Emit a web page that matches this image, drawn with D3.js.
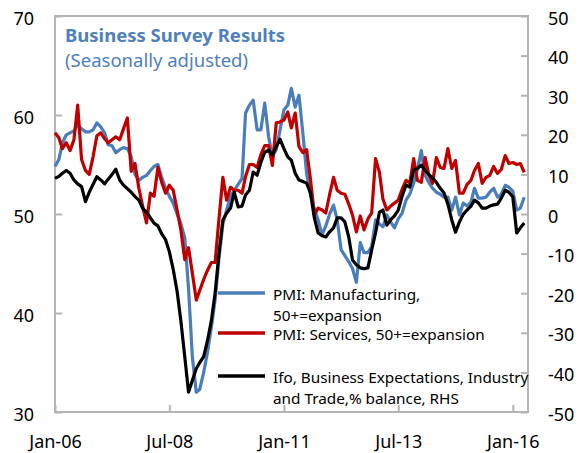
<!DOCTYPE html>
<html>
<head>
<meta charset="utf-8">
<script src="https://cdn.jsdelivr.net/npm/d3@7"></script>
<style>
  body { margin: 0; background: #fff; }
  text { font-family: "Noto Sans", sans-serif; fill: #000; }
</style>
</head>
<body>
<div id="chart"></div>
<script>
// monthly data, Jan-06 .. Apr-16
var startYear = 2006;

var pmiManufacturing = [
  54.8, 55.5, 57.2, 58.0, 58.2, 58.4, 59.0, 58.6, 58.3, 58.3, 58.5, 59.2,
  58.8, 58.2, 57.0, 56.9, 56.2, 56.5, 56.7, 56.6, 55.8, 54.0, 53.4, 53.7,
  53.9, 54.4, 54.8, 55.0, 53.7, 52.6, 51.8, 51.1, 50.0, 49.0, 47.6, 42.5,
  35.5, 32.0, 32.3, 34.0, 36.0, 38.5, 41.3, 45.5, 49.0, 50.4, 51.8, 52.4,
  53.0, 53.6, 60.2, 61.0, 61.5, 58.5, 58.5, 61.2, 57.8, 55.8, 56.5, 58.5,
  60.5, 61.0, 62.7, 60.8, 62.0, 58.2, 54.1, 52.0, 50.5, 49.4, 47.9, 48.8,
  50.0, 50.9, 49.4, 46.4, 45.8, 45.2, 44.5, 43.1, 47.1, 46.1, 46.1, 46.7,
  49.4, 49.0, 48.7, 49.9, 49.2, 48.6, 49.5, 50.1, 51.4, 52.0, 53.1, 54.5,
  56.4, 53.9, 53.2, 52.6, 52.2, 52.0, 51.7, 51.7, 50.4, 51.7, 49.9, 51.1,
  50.8, 51.2, 52.6, 51.6, 51.6, 51.7, 52.2, 52.6, 51.7, 52.0, 52.9, 52.7,
  52.3, 50.4, 50.6, 51.7
];

var pmiServices = [
  58.2, 57.7, 56.6, 57.2, 56.4, 57.5, 61.0, 55.5, 54.4, 54.0, 55.8, 57.9,
  58.2, 57.6, 57.2, 57.5, 57.8, 57.5, 58.6, 59.7, 54.3, 55.1, 52.6, 50.8,
  49.1, 52.1, 51.8, 54.7, 53.2, 52.1, 52.9, 52.4, 50.4, 48.4, 45.4, 46.6,
  44.0, 41.3, 42.3, 43.4, 44.3, 45.1, 45.1, 49.5, 53.7, 51.4, 52.7, 52.4,
  52.4, 52.1, 53.8, 55.0, 55.0, 54.7, 56.0, 56.9, 56.9, 54.9, 59.2, 59.3,
  59.5, 60.3, 58.7, 60.2, 56.8, 56.2, 56.5, 53.5, 49.9, 50.6, 50.4, 50.1,
  52.0, 53.7, 52.4, 52.1, 52.0, 51.0, 49.9, 48.2, 49.8, 48.4, 49.5, 50.1,
  55.6, 54.2, 51.5, 50.4, 50.8, 51.1, 51.4, 52.5, 53.4, 53.1, 55.6, 53.4,
  53.2, 55.7, 54.0, 53.1, 55.7, 54.7, 54.6, 56.6, 54.6, 55.4, 52.1, 52.1,
  53.0, 53.4, 54.4, 55.1, 53.1, 53.7, 53.9, 54.8, 54.1, 54.5, 55.9, 55.1,
  55.2, 55.0, 55.1, 54.2
];

var ifoExpectations = [
  9.0, 9.5, 10.3, 11.0, 10.3, 8.6, 7.6, 6.9, 3.1, 5.5, 7.5, 9.4,
  8.6, 7.6, 8.8, 10.0, 11.3, 8.6, 7.3, 6.4, 5.5, 4.4, 3.5, 1.4,
  0.5, -1.0, -2.3, -3.0, -5.0, -6.5, -9.5, -14.0, -19.5, -27.0, -36.0, -45.0,
  -42.0, -39.0, -37.5, -36.0, -32.0, -27.0, -20.0, -10.0, -1.5, 0.2, 1.5, 5.5,
  1.8, 2.0, 4.8, 6.0, 10.6, 9.8, 13.0, 15.6, 16.1, 14.9, 17.0, 18.9,
  16.5, 14.4, 13.6, 10.3, 8.6, 8.2, 7.8, 5.3, -1.0, -4.8, -5.5, -5.8,
  -4.5, -3.5, -1.0, -1.0, -2.0, -5.8, -11.6, -12.8, -13.6, -13.8, -13.6, -9.1,
  -4.8, 0.5, 1.0, -2.8, -1.5, -0.5, 1.0, 4.5, 7.3, 6.8, 11.1, 11.5,
  12.3, 11.0, 10.0, 9.1, 8.0, 6.5, 5.3, 2.5, -1.5, -4.6, -2.0, -0.1,
  1.0, 2.0, 3.5, 2.8, 1.5, 1.5, 2.0, 2.3, 2.5, 4.0, 6.0, 5.5,
  4.3, -4.8, -3.5, -2.3
];

var leftTicks = [30, 40, 50, 60, 70];
var rightTicks = [-50, -40, -30, -20, -10, 0, 10, 20, 30, 40, 50];
var xTickLabels = ["Jan-06", "Jul-08", "Jan-11", "Jul-13", "Jan-16"];

var legendLabels = [
  ["PMI: Manufacturing,", "50+=expansion"],
  ["PMI: Services, 50+=expansion"],
  ["Ifo, Business Expectations, Industry", "and Trade,% balance, RHS"]
];
var colors = ["#4A7EBB", "#C00000", "#000000"];

//Setup chart area
var svgWidth = 578;
var svgHeight = 453;

var margin = { top: 16, right: 50, bottom: 41, left: 55 };

var width = svgWidth - margin.left - margin.right;
var height = svgHeight - margin.top - margin.bottom;

var svg = d3.select("#chart")
  .append("svg")
  .attr("width", svgWidth)
  .attr("height", svgHeight);

var chartGroup = svg.append("g")
  .attr("transform", `translate(${margin.left}, ${margin.top})`);

var parseMonth = d3.timeParse("%b-%y");
var dates = pmiManufacturing.map((d, i) => new Date(startYear, i, 1));

var xScale = d3.scaleTime()
  .domain([new Date(startYear, 0, 1), new Date(startYear, 124, 1)])
  .range([0, width]);

var yLeft = d3.scaleLinear().domain([30, 70]).range([height, 0]);
var yRight = d3.scaleLinear().domain([-50, 50]).range([height, 0]);

var axisColor = "#B4B4B4";

// plot border
chartGroup.append("rect")
  .attr("width", width)
  .attr("height", height)
  .attr("fill", "none")
  .attr("stroke", axisColor)
  .attr("stroke-width", 2);

// left axis
var leftAxis = d3.axisLeft(yLeft).tickValues(leftTicks).tickSize(-7).tickPadding(21);
var gLeft = chartGroup.append("g").call(leftAxis);

// right axis (plain hyphen for negatives)
var rightAxis = d3.axisRight(yRight)
  .tickValues(rightTicks)
  .tickFormat(d => String(d))
  .tickSize(-7)
  .tickPadding(20);
var gRight = chartGroup.append("g")
  .attr("transform", `translate(${width}, 0)`)
  .call(rightAxis);

// bottom axis
var bottomAxis = d3.axisBottom(xScale)
  .tickValues(xTickLabels.map(parseMonth))
  .tickFormat(d3.timeFormat("%b-%y"))
  .tickSize(-7)
  .tickPadding(23);
var gBottom = chartGroup.append("g")
  .attr("transform", `translate(0, ${height})`)
  .call(bottomAxis);

[gLeft, gRight, gBottom].forEach(function(g) {
  g.select(".domain").remove();
  g.selectAll(".tick line").attr("stroke", axisColor).attr("stroke-width", 2);
  g.selectAll(".tick text").attr("font-size", "18px").attr("fill", "#000");
});
gLeft.selectAll(".tick text").attr("dy", "0.45em");
gRight.selectAll(".tick text").attr("dy", "0.45em");

// lines
var lineLeft = d3.line()
  .x((d, i) => xScale(dates[i]))
  .y(d => yLeft(d));
var lineRight = d3.line()
  .x((d, i) => xScale(dates[i]))
  .y(d => yRight(d));

chartGroup.append("path")
  .datum(pmiManufacturing)
  .attr("d", lineLeft)
  .attr("fill", "none")
  .attr("stroke", colors[0])
  .attr("stroke-width", 3.2)
  .attr("stroke-linejoin", "round");

chartGroup.append("path")
  .datum(pmiServices)
  .attr("d", lineLeft)
  .attr("fill", "none")
  .attr("stroke", colors[1])
  .attr("stroke-width", 3.2)
  .attr("stroke-linejoin", "round");

chartGroup.append("path")
  .datum(ifoExpectations)
  .attr("d", lineRight)
  .attr("fill", "none")
  .attr("stroke", colors[2])
  .attr("stroke-width", 3.2)
  .attr("stroke-linejoin", "round");

// title
svg.append("text")
  .attr("x", 65)
  .attr("y", 42)
  .attr("font-size", "18.5px")
  .attr("font-weight", "bold")
  .style("fill", "#4F81BD")
  .text("Business Survey Results");

svg.append("text")
  .attr("x", 65)
  .attr("y", 67)
  .attr("font-size", "18.5px")
  .style("fill", "#4F81BD")
  .text("(Seasonally adjusted)");

// legend
var legendY = [293, 333, 376];
var legend = svg.append("g");
legendLabels.forEach(function(lines, i) {
  legend.append("line")
    .attr("x1", 218).attr("x2", 265)
    .attr("y1", legendY[i]).attr("y2", legendY[i])
    .attr("stroke", colors[i])
    .attr("stroke-width", 3.5);
  lines.forEach(function(t, j) {
    legend.append("text")
      .attr("x", 273)
      .attr("y", legendY[i] + 7 + j * 21)
      .attr("font-size", "15.3px")
      .text(t);
  });
});
</script>
</body>
</html>
